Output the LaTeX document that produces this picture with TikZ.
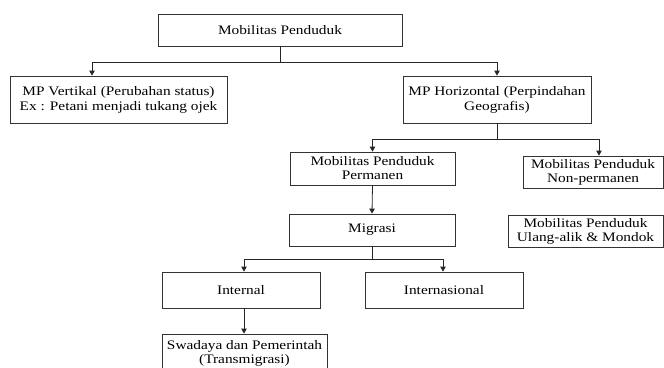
\documentclass[tikz,border=0pt]{standalone}
\usepackage{fontspec}
\setmainfont[FakeStretch=1.18]{Liberation Serif}
\usetikzlibrary{arrows.meta}
\begin{document}
\begin{tikzpicture}[x=1pt,y=-1pt,
  box/.style={draw=black!80, line width=0.8pt, rectangle, inner sep=0pt, align=center,
    font=\fontsize{13}{14}\selectfont},
  conn/.style={draw=black!85, line width=0.8pt},
  arr/.style={conn, -{Triangle[length=5pt,width=5.5pt]}}]
\useasboundingbox (0,0) rectangle (664,367);
\clip (0,0) rectangle (664,367);
\node[box, minimum width=244, minimum height=32] (top) at (280,30) {Mobilitas Penduduk};
\node[box, minimum width=217, minimum height=47, font=\fontsize{13}{15}\selectfont] (mpv) at (118.5,99.5) {MP Vertikal (Perubahan status)\\Ex : Petani menjadi tukang ojek};
\node[box, minimum width=188, minimum height=47, font=\fontsize{13}{15}\selectfont] (mph) at (497,99.5) {MP Horizontal (Perpindahan\\Geografis)};
\node[box, minimum width=165, minimum height=33] (perm) at (372.5,168.5) {Mobilitas Penduduk\\Permanen};
\node[box, minimum width=140, minimum height=32] (nonperm) at (593,172) {Mobilitas Penduduk\\Non-permanen};
\node[box, minimum width=166, minimum height=32] (migrasi) at (372,230) {Migrasi};
\node[box, minimum width=155, minimum height=32] (ulang) at (585.5,231) {Mobilitas Penduduk\\Ulang-alik \& Mondok};
\node[box, minimum width=158, minimum height=36] (internal) at (241,290) {Internal};
\node[box, minimum width=158, minimum height=36] (intern) at (444,290) {Internasional};
\node[box, minimum width=165, minimum height=38] (swadaya) at (244.5,353) {Swadaya dan Pemerintah\\(Transmigrasi)};
% level 1
\coordinate (j1) at (280,62);
\draw[conn] (top.south) -- (j1);
\draw[arr] (j1) -| ([xshift=-26.5pt]mpv.north);
\draw[arr] (j1) -| (mph.north);
% level 2
\coordinate (j2) at (497,139);
\draw[conn] (mph.south) -- (j2);
\draw[arr] (j2) -| (perm.north);
\draw[arr] (j2) -| ([xshift=6pt]nonperm.north);
\draw[arr] (perm.south) -- (migrasi.north);
% level 3
\coordinate (j3) at (372,259);
\draw[conn] (migrasi.south) -- (j3);
\draw[arr] (j3) -| ([xshift=3pt]internal.north);
\draw[arr] (j3) -| ([xshift=-1pt]intern.north);
\draw[arr] ([xshift=3pt]internal.south) -- ([xshift=3pt]internal.south |- swadaya.north);
\end{tikzpicture}
\end{document}
